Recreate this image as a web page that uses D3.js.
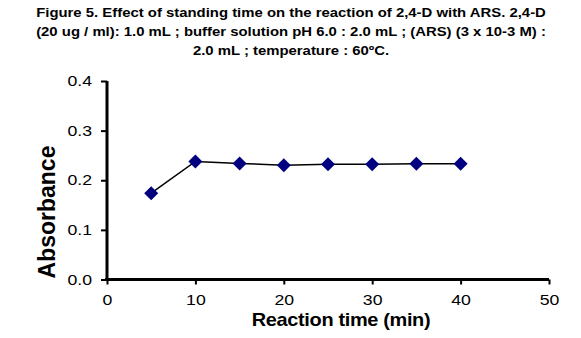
<!DOCTYPE html>
<html><head><meta charset="utf-8">
<script src="https://cdn.jsdelivr.net/npm/d3@7"></script>
<style>body{margin:0;background:#fff}svg{display:block}</style>
</head><body>
<script>
const titleLines = [
  "Figure 5. Effect of standing time on the reaction of 2,4-D with ARS. 2,4-D",
  "(20 ug / ml): 1.0 mL ; buffer solution pH 6.0 : 2.0 mL ; (ARS) (3 x 10-3 M) :",
  "2.0 mL ; temperature : 60ºC."
];
const times = [5, 10, 15, 20, 25, 30, 35, 40];
const absorbance = [0.174, 0.238, 0.234, 0.230, 0.232, 0.232, 0.233, 0.233];
const xTicks = [0, 10, 20, 30, 40, 50];
const yTicks = [0.0, 0.1, 0.2, 0.3, 0.4];
const xTitle = "Reaction time (min)";
const yTitle = "Absorbance";

const W = 581, H = 338;
const svg = d3.select("body").append("svg").attr("width", W).attr("height", H);
const font = "Arial, 'Liberation Sans', sans-serif";

const x = d3.scaleLinear().domain([0, 50]).range([107, 549]);
const y = d3.scaleLinear().domain([0, 0.4]).range([279.5, 81]);

// title (horizontally stretched like the reference)
const tSx = 1.12;
svg.append("g").selectAll("g").data(titleLines).join("g")
  .attr("transform", (d, i) => `translate(291,${17 + i * 19}) scale(${tSx},1)`)
  .append("text")
  .attr("text-anchor", "middle").attr("font-family", font)
  .attr("font-weight", "bold").attr("font-size", 13.3).text(d => d);

const lSx = 1.22;
const xAxis = svg.append("g").attr("transform", `translate(0,${y(0)})`)
  .call(d3.axisBottom(x).tickValues(xTicks).tickFormat(d3.format("d")).tickSizeOuter(0).tickSize(5).tickPadding(10));
const yAxis = svg.append("g").attr("transform", `translate(${x(0)},0)`)
  .call(d3.axisLeft(y).tickValues(yTicks).tickFormat(d3.format(".1f")).tickSizeOuter(0).tickSize(6).tickPadding(9));
[xAxis, yAxis].forEach(g => {
  g.select(".domain").attr("stroke", "#000").attr("stroke-width", 3);
  g.selectAll(".tick line").attr("stroke", "#000").attr("stroke-width", 2);
  g.selectAll(".tick text").attr("font-family", font).attr("font-size", 14.5).attr("fill", "#000");
});
xAxis.selectAll(".tick text").attr("transform", `scale(${lSx},1)`);
yAxis.selectAll(".tick text").attr("x", -15 / lSx).attr("transform", `scale(${lSx},1)`);
xAxis.select(".domain").attr("d", `M${x(0)-2},0H${x(50)}`);
yAxis.select(".domain").attr("d", `M0,${y(0.4)}V${y(0)+1.5}`);

const pts = times.map((t, i) => [t, absorbance[i]]);
svg.append("path").datum(pts)
  .attr("d", d3.line().x(d => x(d[0])).y(d => y(d[1])))
  .attr("fill", "none").attr("stroke", "#000").attr("stroke-width", 1.5);

svg.append("g").selectAll("path").data(pts).join("path")
  .attr("transform", d => `translate(${x(d[0])},${y(d[1])})`)
  .attr("d", "M0,-7L7,0L0,7L-7,0Z")
  .attr("fill", "#000080");

svg.append("g").attr("transform", "translate(341,326) scale(1.14,1)")
  .append("text")
  .attr("text-anchor", "middle").attr("font-family", font)
  .attr("font-weight", "bold").attr("font-size", 17.5).attr("letter-spacing", -0.3).text(xTitle);

svg.append("text").attr("transform", "translate(55,212) rotate(-90)")
  .attr("text-anchor", "middle").attr("font-family", font)
  .attr("font-weight", "bold").attr("font-size", 23).text(yTitle);
</script>
</body></html>
